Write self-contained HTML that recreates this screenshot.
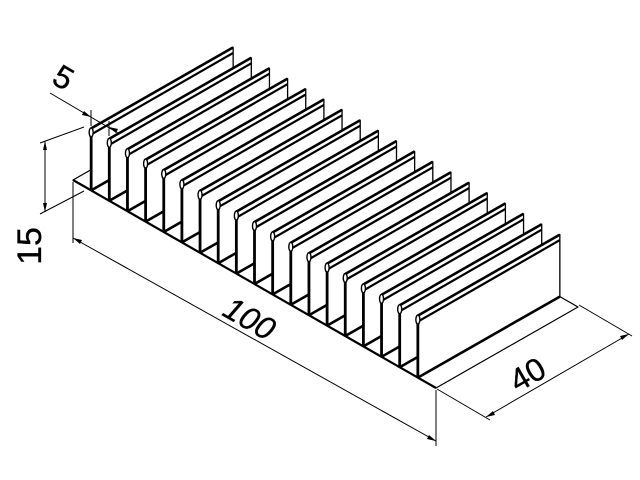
<!DOCTYPE html>
<html><head><meta charset="utf-8"><style>
html,body{margin:0;padding:0;background:#fff;width:640px;height:480px;overflow:hidden}
svg{display:block}
text{font-family:"Liberation Sans",sans-serif;fill:#000;stroke:#000;stroke-width:0.3}
</style></head><body>
<svg id="s" width="640" height="480" viewBox="0 0 640 480" xmlns="http://www.w3.org/2000/svg">
<rect width="640" height="480" fill="#fff"/>
<g id="g" stroke="#000" fill="#fff" stroke-linejoin="round"></g>
<g stroke="#000" stroke-width="1" fill="none">
  <line x1="73" y1="182" x2="73" y2="243"/>
  <line x1="436" y1="390" x2="436" y2="446"/>
  <line x1="73" y1="238" x2="436" y2="441"/>
  <line x1="437" y1="389" x2="490" y2="420"/>
  <line x1="579" y1="305" x2="632" y2="336"/>
  <line x1="486" y1="417" x2="629" y2="334"/>
  <line x1="45" y1="141" x2="45" y2="212"/>
  <line x1="40" y1="143" x2="84" y2="127"/>
  <line x1="40" y1="214" x2="84" y2="191"/>
  <line x1="50" y1="93" x2="118" y2="133"/>
  <line x1="91" y1="126" x2="91" y2="110"/>
  <line x1="109" y1="136" x2="109" y2="121"/>
</g>
<g fill="#000">
  <polygon points="73,238 82,240 80,244"/>
  <polygon points="436,441 427,439 429,435"/>
  <polygon points="486,417 493,411 495,415"/>
  <polygon points="629,334 622,340 620,336"/>
  <polygon points="45,141 43,150 47,150"/>
  <polygon points="45,212 43,203 47,203"/>
  <polygon points="91,117 82,115 84,111"/>
  <polygon points="109,127 118,129 116,133"/>
</g>
<text x="0" y="0" font-size="32" transform="translate(244,328) rotate(30)" text-anchor="middle" font-style="italic">100</text>
<text x="0" y="0" font-size="32" transform="translate(533,384) rotate(-30)" text-anchor="middle">40</text>
<text x="0" y="0" font-size="34" transform="translate(41,246) rotate(-90)" text-anchor="middle">15</text>
<text x="0" y="0" font-size="32" transform="translate(58,87) rotate(30)" text-anchor="middle">5</text>
</svg>
<script>
var g=document.getElementById('g'),ns='http://www.w3.org/2000/svg';
function el(t,a){var e=document.createElementNS(ns,t);for(var k in a)e.setAttribute(k,a[k]);g.appendChild(e);return e;}
var dx=142,dy=-81,H=62;
el('polygon',{points:'73,180 436,388 578,307 215,99','stroke-width':'1.2'});
el('line',{x1:73,y1:180,x2:436,y2:388,'stroke-width':'2.2'});
for(var i=0;i<19;i++){
  var x=91.15+18.15*i, y=180+(x-73)*0.573;
  var t=y-H;
  el('polygon',{points:x+','+y+' '+x+','+t+' '+(x+dx)+','+(t+dy)+' '+(x+dx)+','+(y+dy),'stroke-width':'1.3'});
  el('line',{x1:x,y1:y,x2:x+dx,y2:y+dy,'stroke-width':'2.6'});
  el('line',{x1:x,y1:t,x2:x+dx,y2:t+dy,'stroke-width':'2.6'});
  el('line',{x1:x+1,y1:t+5.5,x2:x+dx,y2:t+dy+5.5,'stroke-width':'2.2'});
  el('line',{x1:x,y1:y,x2:x,y2:t,'stroke-width':'2.8'});
  el('ellipse',{cx:x,cy:t+4,rx:2,ry:4.5,'stroke-width':'1.4'});
}
</script>
</body></html>
